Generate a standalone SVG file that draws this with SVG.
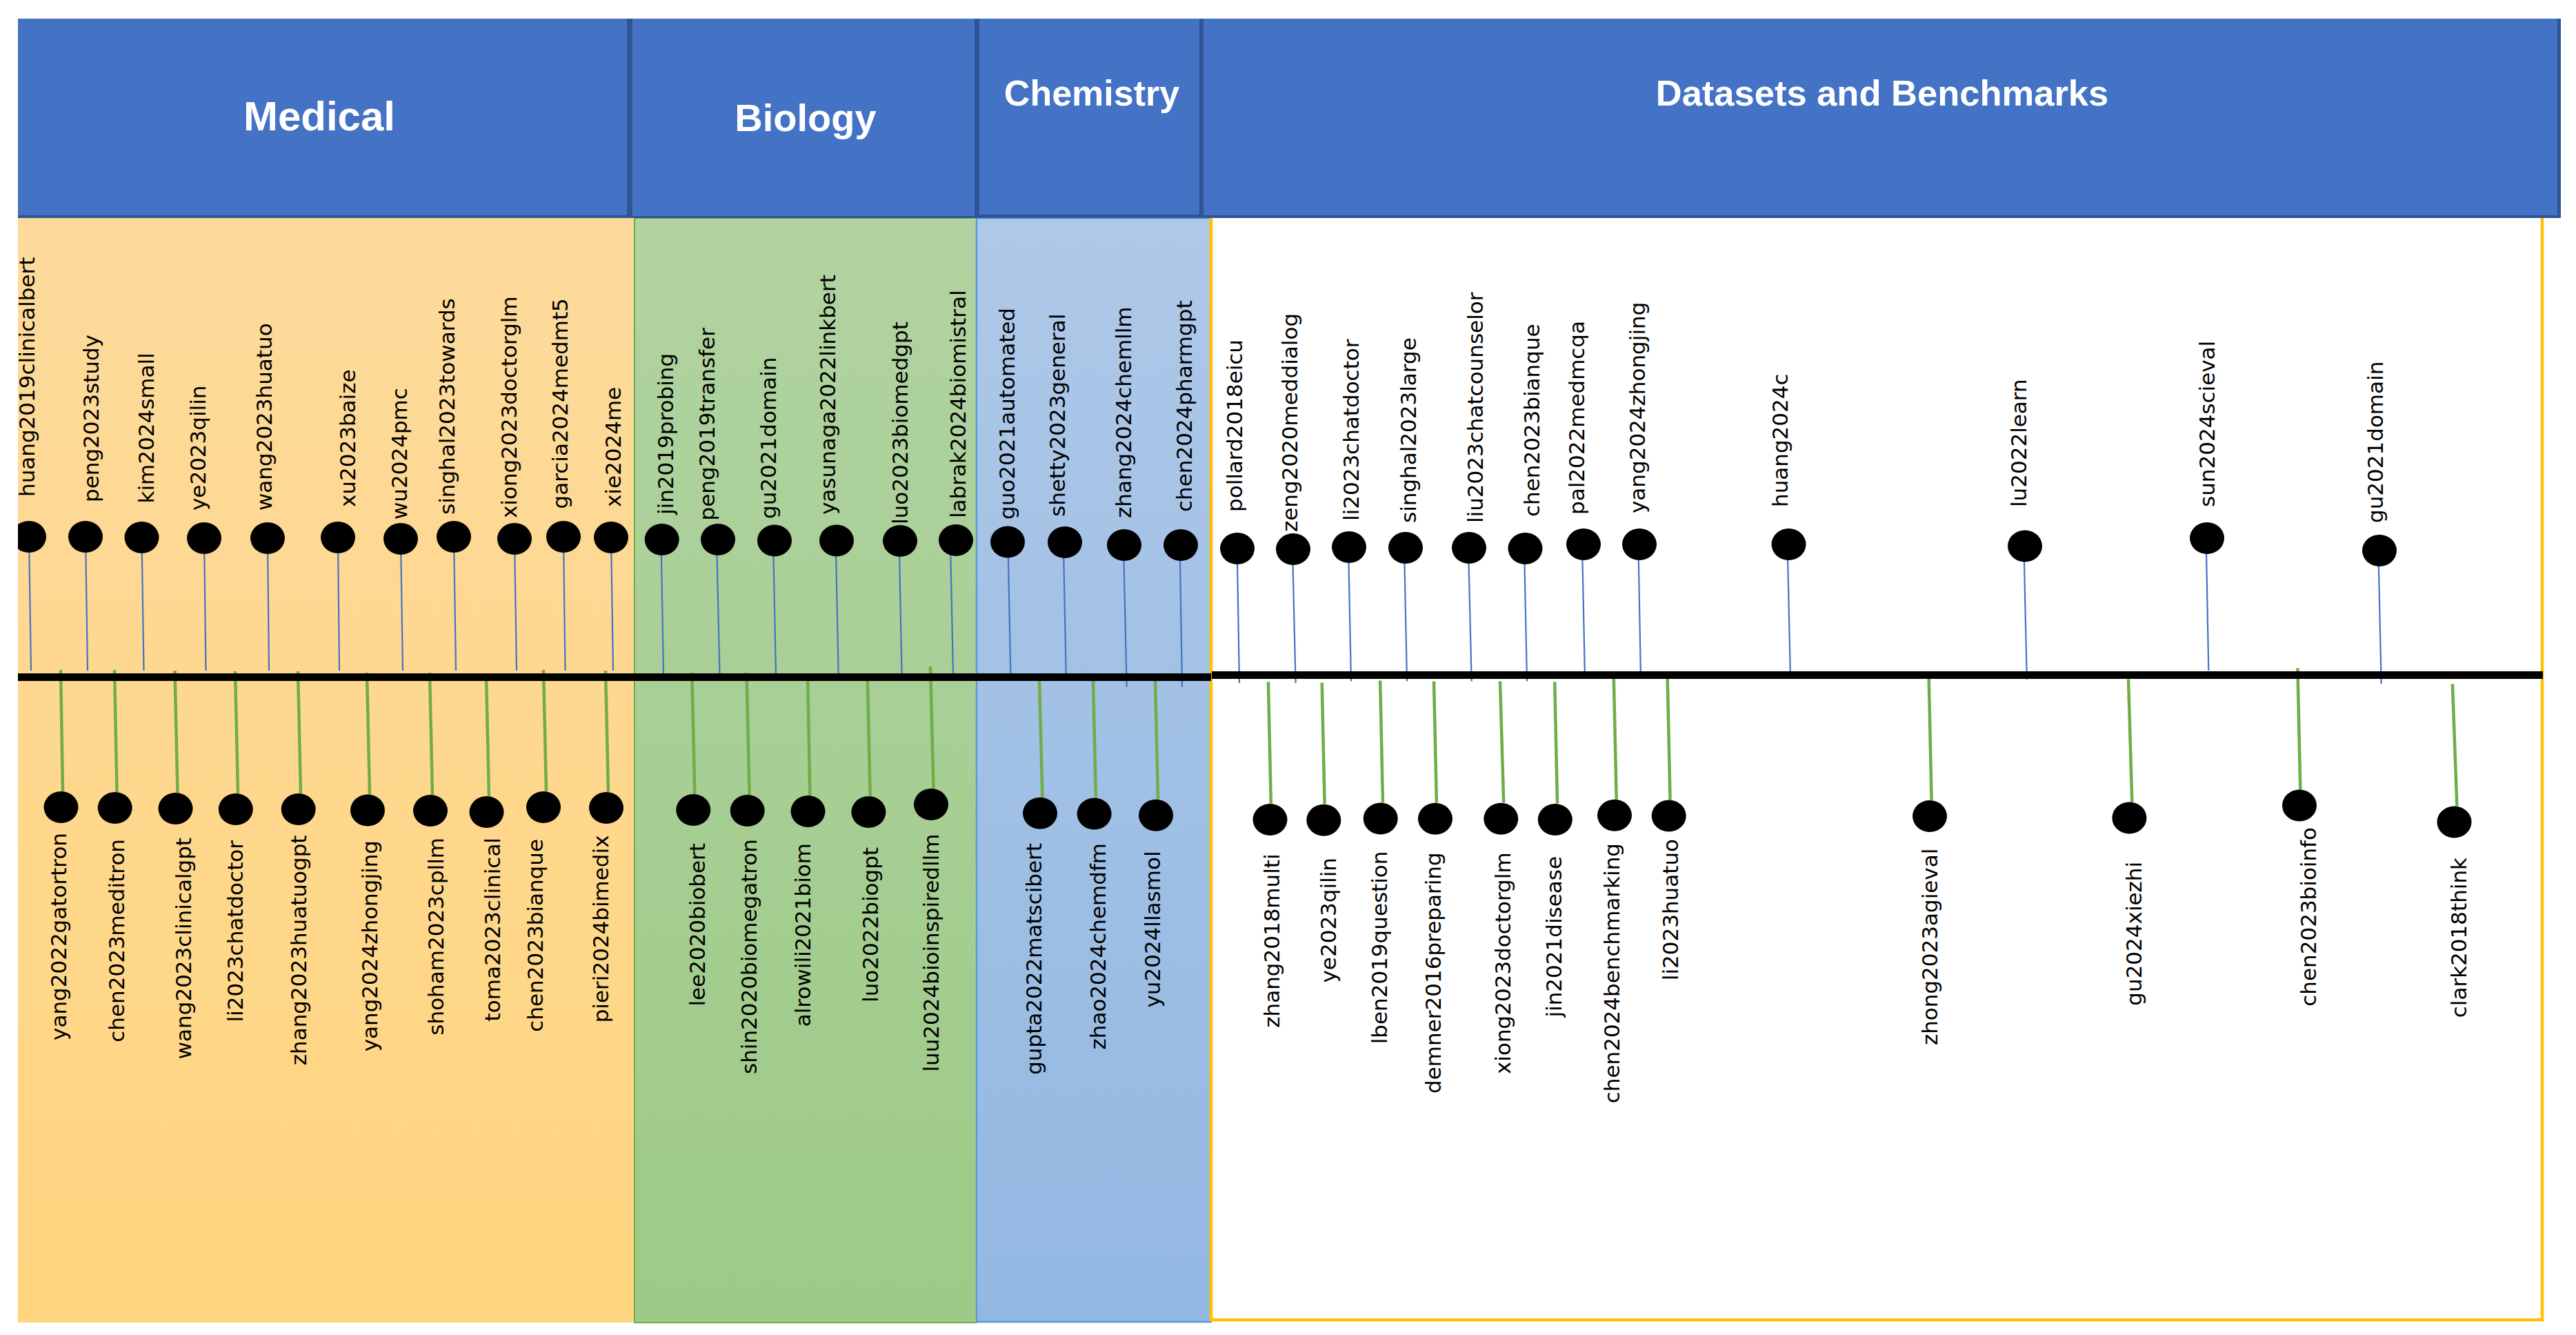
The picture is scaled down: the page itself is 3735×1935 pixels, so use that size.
<svg xmlns="http://www.w3.org/2000/svg" width="3735" height="1935" viewBox="0 0 3735 1935">
<style>
.hdrtxt{font-family:"Liberation Sans",Arial,sans-serif;font-weight:bold;fill:#fff;text-anchor:middle}
.lbl{font-family:"DejaVu Sans",sans-serif;font-size:31px;fill:#000}
.up{text-anchor:start}
.dn{text-anchor:end}
.dot{fill:#000}
.bl{stroke:#4472C4;stroke-width:2.2;fill:none}
.gl{stroke:#70AD47;stroke-width:4.5;fill:none}
.hdr{fill:#4472C4}
</style>
<defs>
<linearGradient id="gMed" x1="0" y1="0" x2="0" y2="1"><stop offset="0" stop-color="#FDDA9C"/><stop offset="1" stop-color="#FFD57F"/></linearGradient>
<linearGradient id="gBio" x1="0" y1="0" x2="0" y2="1"><stop offset="0" stop-color="#B1D3A1"/><stop offset="1" stop-color="#9DCA87"/></linearGradient>
<linearGradient id="gChem" x1="0" y1="0" x2="0" y2="1"><stop offset="0" stop-color="#AEC8E8"/><stop offset="1" stop-color="#93B8E2"/></linearGradient>
<clipPath id="clipL"><rect x="26" y="0" width="3709" height="1935"/></clipPath>
</defs>
<rect width="3735" height="1935" fill="#fff"/>
<g id="panels">
<rect x="26" y="316" width="894" height="1601" fill="url(#gMed)"/>
<rect x="920" y="316" width="496" height="1601" fill="url(#gBio)" stroke="#70AD47" stroke-width="2"/>
<rect x="1416" y="316" width="340" height="1600" fill="url(#gChem)" stroke="#5B9BD5" stroke-width="2.5"/>
<rect x="1756" y="300" width="1930" height="1613" fill="#fff" stroke="#FFC000" stroke-width="4.5"/>
</g>
<g id="headers">
<rect x="26" y="27" width="3687" height="289" fill="#2F5597"/>
<g id="h-medical"><rect class="hdr" x="26" y="27" width="883" height="285"/><text class="hdrtxt" x="463" y="189" font-size="60">Medical</text></g>
<g id="h-biology"><rect class="hdr" x="917" y="27" width="496" height="286"/><text class="hdrtxt" x="1168" y="190" font-size="56">Biology</text></g>
<g id="h-chemistry"><rect class="hdr" x="1420" y="27" width="319" height="284"/><text class="hdrtxt" x="1583" y="153" font-size="52">Chemistry</text></g>
<g id="h-datasets"><rect class="hdr" x="1745" y="27" width="1963" height="285"/><text class="hdrtxt" x="2729" y="153" font-size="52.5">Datasets and Benchmarks</text></g>
</g>
<g id="connectors">
<line class="bl" x1="42" y1="778" x2="45" y2="972"/>
<line class="bl" x1="124" y1="778" x2="127" y2="972"/>
<line class="bl" x1="205.5" y1="779" x2="208.5" y2="972"/>
<line class="bl" x1="296" y1="780" x2="298.5" y2="972"/>
<line class="bl" x1="388" y1="780" x2="390" y2="972"/>
<line class="bl" x1="490" y1="779" x2="492" y2="972"/>
<line class="bl" x1="581" y1="781" x2="584" y2="972"/>
<line class="bl" x1="658" y1="778" x2="661" y2="972"/>
<line class="bl" x1="746" y1="781" x2="749" y2="972"/>
<line class="bl" x1="817" y1="778" x2="819.5" y2="972"/>
<line class="bl" x1="886" y1="779" x2="889" y2="972"/>
<line class="gl" x1="88" y1="971" x2="91" y2="1147"/>
<line class="gl" x1="166" y1="971" x2="169.5" y2="1148"/>
<line class="gl" x1="253.5" y1="972" x2="257.5" y2="1149"/>
<line class="gl" x1="341" y1="973" x2="345" y2="1150"/>
<line class="gl" x1="432" y1="973" x2="436" y2="1150"/>
<line class="gl" x1="532" y1="975" x2="536" y2="1151.5"/>
<line class="gl" x1="623" y1="975" x2="627" y2="1152"/>
<line class="gl" x1="705" y1="978" x2="709" y2="1154"/>
<line class="gl" x1="788" y1="971" x2="792" y2="1147"/>
<line class="gl" x1="878" y1="972" x2="882" y2="1148"/>
<line class="bl" x1="958.5" y1="782" x2="962" y2="977"/>
<line class="bl" x1="1039" y1="782" x2="1043.5" y2="977"/>
<line class="bl" x1="1121" y1="783.5" x2="1125" y2="978"/>
<line class="bl" x1="1211.7" y1="783.5" x2="1215.7" y2="978"/>
<line class="bl" x1="1303.6" y1="784" x2="1307.6" y2="978"/>
<line class="bl" x1="1378" y1="790" x2="1382" y2="977"/>
<line class="bl" x1="1461.4" y1="785.5" x2="1465.4" y2="978.6"/>
<line class="bl" x1="1541.8" y1="786" x2="1545.8" y2="980.8"/>
<line class="bl" x1="1629" y1="790" x2="1633.6" y2="995.5"/>
<line class="bl" x1="1710.6" y1="790" x2="1714" y2="995.5"/>
<line class="gl" x1="1003.3" y1="975" x2="1007.3" y2="1151"/>
<line class="gl" x1="1082.5" y1="975" x2="1086.6" y2="1152"/>
<line class="gl" x1="1171" y1="977" x2="1174.4" y2="1153"/>
<line class="gl" x1="1257.6" y1="977.6" x2="1261.7" y2="1153.8"/>
<line class="gl" x1="1349" y1="966" x2="1353.5" y2="1143.5"/>
<line class="gl" x1="1506.8" y1="978.7" x2="1511.4" y2="1155.7"/>
<line class="gl" x1="1584.8" y1="979.5" x2="1588.9" y2="1156"/>
<line class="gl" x1="1675" y1="982.6" x2="1679" y2="1158.8"/>
<line class="bl" x1="1793.7" y1="795" x2="1797" y2="990"/>
<line class="bl" x1="1874" y1="796" x2="1878.6" y2="990"/>
<line class="bl" x1="1955" y1="793" x2="1959" y2="987.5"/>
<line class="bl" x1="2036" y1="794" x2="2040" y2="987.5"/>
<line class="bl" x1="2129" y1="794" x2="2133.7" y2="987.5"/>
<line class="bl" x1="2210" y1="795" x2="2214" y2="987.5"/>
<line class="bl" x1="2294" y1="789" x2="2298" y2="983"/>
<line class="bl" x1="2375.4" y1="789" x2="2379" y2="983"/>
<line class="bl" x1="2591.6" y1="789" x2="2596" y2="983"/>
<line class="bl" x1="2934.4" y1="791.5" x2="2938.8" y2="985"/>
<line class="bl" x1="3198.6" y1="780" x2="3202.3" y2="972"/>
<line class="bl" x1="3448.4" y1="798" x2="3452.7" y2="991"/>
<line class="gl" x1="1838.9" y1="988.3" x2="1842.8" y2="1164.6"/>
<line class="gl" x1="1916.7" y1="989.5" x2="1920.6" y2="1165.3"/>
<line class="gl" x1="2001.1" y1="986.4" x2="2005" y2="1163.4"/>
<line class="gl" x1="2079" y1="987.5" x2="2082.9" y2="1163.4"/>
<line class="gl" x1="2175" y1="987.5" x2="2180.2" y2="1163.4"/>
<line class="gl" x1="2254.2" y1="988.3" x2="2258" y2="1164.6"/>
<line class="gl" x1="2339.8" y1="982.6" x2="2343.7" y2="1158.8"/>
<line class="gl" x1="2417.7" y1="983.7" x2="2421.6" y2="1159.6"/>
<line class="gl" x1="2796.7" y1="983.7" x2="2800.6" y2="1160"/>
<line class="gl" x1="3086" y1="984.5" x2="3091.3" y2="1162.6"/>
<line class="gl" x1="3331.4" y1="968.4" x2="3335.3" y2="1144.6"/>
<line class="gl" x1="3555.9" y1="991.4" x2="3562.4" y2="1168.4"/>
</g>
<g id="timeline">
<rect x="26" y="976" width="1730" height="11" fill="#000"/>
<rect x="1757" y="973" width="1930" height="11" fill="#000"/>
</g>
<g id="nodes-medical">
<g id="huang2019clinicalbert"><ellipse class="dot" cx="42" cy="778" rx="25" ry="23" clip-path="url(#clipL)"/><text class="lbl up" transform="translate(50,720) rotate(-90)">huang2019clinicalbert</text></g>
<g id="peng2023study"><ellipse class="dot" cx="124" cy="778" rx="25" ry="23"/><text class="lbl up" transform="translate(143,728) rotate(-90)">peng2023study</text></g>
<g id="kim2024small"><ellipse class="dot" cx="205.5" cy="779" rx="25" ry="23"/><text class="lbl up" transform="translate(223,729.5) rotate(-90)">kim2024small</text></g>
<g id="ye2023qilin"><ellipse class="dot" cx="296" cy="780" rx="25" ry="23"/><text class="lbl up" transform="translate(298,740) rotate(-90)">ye2023qilin</text></g>
<g id="wang2023huatuo"><ellipse class="dot" cx="388" cy="780" rx="25" ry="23"/><text class="lbl up" transform="translate(394,740) rotate(-90)">wang2023huatuo</text></g>
<g id="xu2023baize"><ellipse class="dot" cx="490" cy="779" rx="25" ry="23"/><text class="lbl up" transform="translate(515,735) rotate(-90)">xu2023baize</text></g>
<g id="wu2024pmc"><ellipse class="dot" cx="581" cy="781" rx="25" ry="23"/><text class="lbl up" transform="translate(590,753) rotate(-90)">wu2024pmc</text></g>
<g id="singhal2023towards"><ellipse class="dot" cx="658" cy="778" rx="25" ry="23"/><text class="lbl up" transform="translate(659,746) rotate(-90)">singhal2023towards</text></g>
<g id="xiong2023doctorglm"><ellipse class="dot" cx="746" cy="781" rx="25" ry="23"/><text class="lbl up" transform="translate(749,751) rotate(-90)">xiong2023doctorglm</text></g>
<g id="garcia2024medmt5"><ellipse class="dot" cx="817" cy="778" rx="25" ry="23"/><text class="lbl up" transform="translate(823,737.5) rotate(-90)">garcia2024medmt5</text></g>
<g id="xie2024me"><ellipse class="dot" cx="886" cy="779" rx="25" ry="23"/><text class="lbl up" transform="translate(900,735) rotate(-90)">xie2024me</text></g>
<g id="yang2022gatortron"><ellipse class="dot" cx="88.5" cy="1170" rx="25" ry="23"/><text class="lbl dn" transform="translate(96,1207) rotate(-90)">yang2022gatortron</text></g>
<g id="chen2023meditron"><ellipse class="dot" cx="166.7" cy="1171" rx="25" ry="23"/><text class="lbl dn" transform="translate(180,1216) rotate(-90)">chen2023meditron</text></g>
<g id="wang2023clinicalgpt"><ellipse class="dot" cx="254.5" cy="1172" rx="25" ry="23"/><text class="lbl dn" transform="translate(277,1214) rotate(-90)">wang2023clinicalgpt</text></g>
<g id="li2023chatdoctor-m"><ellipse class="dot" cx="341.8" cy="1173" rx="25" ry="23"/><text class="lbl dn" transform="translate(352,1218) rotate(-90)">li2023chatdoctor</text></g>
<g id="zhang2023huatuogpt"><ellipse class="dot" cx="432.7" cy="1173" rx="25" ry="23"/><text class="lbl dn" transform="translate(444,1210.5) rotate(-90)">zhang2023huatuogpt</text></g>
<g id="yang2024zhongjing-m"><ellipse class="dot" cx="533" cy="1174.5" rx="25" ry="23"/><text class="lbl dn" transform="translate(547,1218) rotate(-90)">yang2024zhongjing</text></g>
<g id="shoham2023cpllm"><ellipse class="dot" cx="624" cy="1175" rx="25" ry="23"/><text class="lbl dn" transform="translate(643,1214) rotate(-90)">shoham2023cpllm</text></g>
<g id="toma2023clinical"><ellipse class="dot" cx="705.5" cy="1177" rx="25" ry="23"/><text class="lbl dn" transform="translate(725,1214) rotate(-90)">toma2023clinical</text></g>
<g id="chen2023bianque-m"><ellipse class="dot" cx="788" cy="1170" rx="25" ry="23"/><text class="lbl dn" transform="translate(787,1216) rotate(-90)">chen2023bianque</text></g>
<g id="pieri2024bimedix"><ellipse class="dot" cx="879" cy="1171" rx="25" ry="23"/><text class="lbl dn" transform="translate(882,1210.5) rotate(-90)">pieri2024bimedix</text></g>
</g>
<g id="nodes-biology">
<g id="jin2019probing"><ellipse class="dot" cx="959.7" cy="782" rx="25" ry="23"/><text class="lbl up" transform="translate(976,746) rotate(-90)">jin2019probing</text></g>
<g id="peng2019transfer"><ellipse class="dot" cx="1041" cy="782" rx="25" ry="23"/><text class="lbl up" transform="translate(1036,754.5) rotate(-90)">peng2019transfer</text></g>
<g id="gu2021domain-b"><ellipse class="dot" cx="1123" cy="783.5" rx="25" ry="23"/><text class="lbl up" transform="translate(1125,752) rotate(-90)">gu2021domain</text></g>
<g id="yasunaga2022linkbert"><ellipse class="dot" cx="1213" cy="783.5" rx="25" ry="23"/><text class="lbl up" transform="translate(1211,746) rotate(-90)">yasunaga2022linkbert</text></g>
<g id="luo2023biomedgpt"><ellipse class="dot" cx="1305" cy="784" rx="25" ry="23"/><text class="lbl up" transform="translate(1316,760) rotate(-90)">luo2023biomedgpt</text></g>
<g id="labrak2024biomistral"><ellipse class="dot" cx="1386" cy="783" rx="25" ry="23"/><text class="lbl up" transform="translate(1400,751) rotate(-90)">labrak2024biomistral</text></g>
<g id="lee2020biobert"><ellipse class="dot" cx="1005.3" cy="1174" rx="25" ry="23"/><text class="lbl dn" transform="translate(1022,1222) rotate(-90)">lee2020biobert</text></g>
<g id="shin2020biomegatron"><ellipse class="dot" cx="1083.7" cy="1175" rx="25" ry="23"/><text class="lbl dn" transform="translate(1097,1216) rotate(-90)">shin2020biomegatron</text></g>
<g id="alrowili2021biom"><ellipse class="dot" cx="1171.5" cy="1176" rx="25" ry="23"/><text class="lbl dn" transform="translate(1175,1222) rotate(-90)">alrowili2021biom</text></g>
<g id="luo2022biogpt"><ellipse class="dot" cx="1259.4" cy="1177" rx="25" ry="23"/><text class="lbl dn" transform="translate(1273,1228) rotate(-90)">luo2022biogpt</text></g>
<g id="luu2024bioinspiredllm"><ellipse class="dot" cx="1350" cy="1166" rx="25" ry="23"/><text class="lbl dn" transform="translate(1361,1208.6) rotate(-90)">luu2024bioinspiredllm</text></g>
</g>
<g id="nodes-chemistry">
<g id="guo2021automated"><ellipse class="dot" cx="1461" cy="785.5" rx="25" ry="23"/><text class="lbl up" transform="translate(1471,753) rotate(-90)">guo2021automated</text></g>
<g id="shetty2023general"><ellipse class="dot" cx="1544" cy="786" rx="25" ry="23"/><text class="lbl up" transform="translate(1544,749) rotate(-90)">shetty2023general</text></g>
<g id="zhang2024chemllm"><ellipse class="dot" cx="1630" cy="790" rx="25" ry="23"/><text class="lbl up" transform="translate(1640,751) rotate(-90)">zhang2024chemllm</text></g>
<g id="chen2024pharmgpt"><ellipse class="dot" cx="1712" cy="790" rx="25" ry="23"/><text class="lbl up" transform="translate(1728,742) rotate(-90)">chen2024pharmgpt</text></g>
<g id="gupta2022matscibert"><ellipse class="dot" cx="1508" cy="1178.7" rx="25" ry="23"/><text class="lbl dn" transform="translate(1510,1222) rotate(-90)">gupta2022matscibert</text></g>
<g id="zhao2024chemdfm"><ellipse class="dot" cx="1586.6" cy="1179.5" rx="25" ry="23"/><text class="lbl dn" transform="translate(1603,1222) rotate(-90)">zhao2024chemdfm</text></g>
<g id="yu2024llasmol"><ellipse class="dot" cx="1676" cy="1181.8" rx="25" ry="23"/><text class="lbl dn" transform="translate(1682,1233.5) rotate(-90)">yu2024llasmol</text></g>
</g>
<g id="nodes-datasets">
<g id="pollard2018eicu"><ellipse class="dot" cx="1794" cy="795" rx="25" ry="23"/><text class="lbl up" transform="translate(1801,742) rotate(-90)">pollard2018eicu</text></g>
<g id="zeng2020meddialog"><ellipse class="dot" cx="1875" cy="796" rx="25" ry="23"/><text class="lbl up" transform="translate(1881,771) rotate(-90)">zeng2020meddialog</text></g>
<g id="li2023chatdoctor-d"><ellipse class="dot" cx="1956" cy="793" rx="25" ry="23"/><text class="lbl up" transform="translate(1970,755) rotate(-90)">li2023chatdoctor</text></g>
<g id="singhal2023large"><ellipse class="dot" cx="2038" cy="794" rx="25" ry="23"/><text class="lbl up" transform="translate(2053,758) rotate(-90)">singhal2023large</text></g>
<g id="liu2023chatcounselor"><ellipse class="dot" cx="2130" cy="794" rx="25" ry="23"/><text class="lbl up" transform="translate(2150,758) rotate(-90)">liu2023chatcounselor</text></g>
<g id="chen2023bianque-d"><ellipse class="dot" cx="2211.5" cy="795" rx="25" ry="23"/><text class="lbl up" transform="translate(2232,749) rotate(-90)">chen2023bianque</text></g>
<g id="pal2022medmcqa"><ellipse class="dot" cx="2296" cy="789" rx="25" ry="23"/><text class="lbl up" transform="translate(2297,746) rotate(-90)">pal2022medmcqa</text></g>
<g id="yang2024zhongjing-d"><ellipse class="dot" cx="2377" cy="789" rx="25" ry="23"/><text class="lbl up" transform="translate(2385,744) rotate(-90)">yang2024zhongjing</text></g>
<g id="huang2024c"><ellipse class="dot" cx="2593.5" cy="789" rx="25" ry="23"/><text class="lbl up" transform="translate(2592,735) rotate(-90)">huang2024c</text></g>
<g id="lu2022learn"><ellipse class="dot" cx="2936" cy="791.5" rx="25" ry="23"/><text class="lbl up" transform="translate(2938,735) rotate(-90)">lu2022learn</text></g>
<g id="sun2024scieval"><ellipse class="dot" cx="3200" cy="780" rx="25" ry="23"/><text class="lbl up" transform="translate(3211,735) rotate(-90)">sun2024scieval</text></g>
<g id="gu2021domain-d"><ellipse class="dot" cx="3450" cy="798" rx="25" ry="23"/><text class="lbl up" transform="translate(3455,758) rotate(-90)">gu2021domain</text></g>
<g id="zhang2018multi"><ellipse class="dot" cx="1841.5" cy="1188" rx="25" ry="23"/><text class="lbl dn" transform="translate(1855,1237.4) rotate(-90)">zhang2018multi</text></g>
<g id="ye2023qilin-d"><ellipse class="dot" cx="1919.3" cy="1188.7" rx="25" ry="23"/><text class="lbl dn" transform="translate(1937,1243) rotate(-90)">ye2023qilin</text></g>
<g id="lben2019question"><ellipse class="dot" cx="2001.7" cy="1186.4" rx="25" ry="23"/><text class="lbl dn" transform="translate(2011,1233.5) rotate(-90)">lben2019question</text></g>
<g id="demner2016preparing"><ellipse class="dot" cx="2081" cy="1186.8" rx="25" ry="23"/><text class="lbl dn" transform="translate(2089,1235.4) rotate(-90)">demner2016preparing</text></g>
<g id="xiong2023doctorglm-d"><ellipse class="dot" cx="2176.3" cy="1186.8" rx="25" ry="23"/><text class="lbl dn" transform="translate(2190,1235.4) rotate(-90)">xiong2023doctorglm</text></g>
<g id="jin2021disease"><ellipse class="dot" cx="2254.8" cy="1188" rx="25" ry="23"/><text class="lbl dn" transform="translate(2264,1241) rotate(-90)">jin2021disease</text></g>
<g id="chen2024benchmarking"><ellipse class="dot" cx="2341" cy="1181.8" rx="25" ry="23"/><text class="lbl dn" transform="translate(2348,1222) rotate(-90)">chen2024benchmarking</text></g>
<g id="li2023huatuo"><ellipse class="dot" cx="2419.7" cy="1182.6" rx="25" ry="23"/><text class="lbl dn" transform="translate(2433,1216) rotate(-90)">li2023huatuo</text></g>
<g id="zhong2023agieval"><ellipse class="dot" cx="2798" cy="1183" rx="25" ry="23"/><text class="lbl dn" transform="translate(2809,1229.7) rotate(-90)">zhong2023agieval</text></g>
<g id="gu2024xiezhi"><ellipse class="dot" cx="3087.4" cy="1185.6" rx="25" ry="23"/><text class="lbl dn" transform="translate(3105,1248.9) rotate(-90)">gu2024xiezhi</text></g>
<g id="chen2023bioinfo"><ellipse class="dot" cx="3334" cy="1167.6" rx="25" ry="23"/><text class="lbl dn" transform="translate(3358,1199) rotate(-90)">chen2023bioinfo</text></g>
<g id="clark2018think"><ellipse class="dot" cx="3558.5" cy="1191.4" rx="25" ry="23"/><text class="lbl dn" transform="translate(3576,1243) rotate(-90)">clark2018think</text></g>
</g>
</svg>
